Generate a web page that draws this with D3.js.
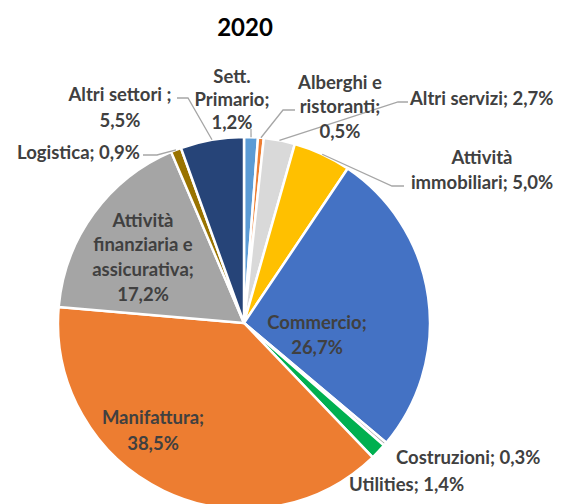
<!DOCTYPE html>
<html>
<head>
<meta charset="utf-8">
<script src="https://d3js.org/d3.v7.min.js"></script>
<style>
  body { margin: 0; background: #fff; }
  .lbl { font-family: Lato, "Noto Sans", sans-serif; font-weight: bold; font-size: 18.5px; fill: #404040; }
</style>
</head>
<body>
<svg class="chart" width="562" height="504"></svg>
<script>
// data (clockwise from 12 o'clock)
var settori = ["Sett. Primario", "Alberghi e ristoranti", "Altri servizi", "Attività immobiliari",
  "Commercio", "Costruzioni", "Utilities", "Manifattura", "Attività finanziaria e assicurativa",
  "Logistica", "Altri settori"];
var quote = [1.2, 0.5, 2.7, 5.0, 26.7, 0.3, 1.4, 38.5, 17.2, 0.9, 5.5];
var etichette = [
  ["Sett.", "Primario;", "1,2%"],
  ["Alberghi e", "ristoranti;", "0,5%"],
  ["Altri servizi; 2,7%"],
  ["Attività", "immobiliari; 5,0%"],
  ["Commercio;", "26,7%"],
  ["Costruzioni; 0,3%"],
  ["Utilities; 1,4%"],
  ["Manifattura;", "38,5%"],
  ["Attività", "finanziaria e", "assicurativa;", "17,2%"],
  ["Logistica; 0,9%"],
  ["Altri settori ;", "5,5%"]
];
var titolo = "2020";

var colori = ["#5b9bd5", "#ed7d31", "#d9d9d9", "#ffc000", "#4472c4", "#a5a5a5",
  "#00b050", "#ed7d31", "#a5a5a5", "#997300", "#264478"];

// label layout: x, y of first line, anchor, line step, leader elbow / end (null = no leader)
var layout = [
  {x: 232, y: 76, a: "middle", dy: 23, elbow: null, end: [251, 129]},
  {x: 340, y: 82, a: "middle", dy: 24.5, elbow: [283, 110], end: [295, 110]},
  {x: 410, y: 98, a: "start", dy: 0, elbow: [398, 102], end: [408, 102]},
  {x: 482, y: 157, a: "middle", dy: 25, elbow: [392, 186], end: [404, 186]},
  {x: 317, y: 322, a: "middle", dy: 25, elbow: null, end: null},
  {x: 396, y: 457, a: "start", dy: 0, elbow: null, end: null},
  {x: 349, y: 484, a: "start", dy: 0, elbow: null, end: null},
  {x: 153, y: 417, a: "middle", dy: 26, elbow: null, end: null},
  {x: 143, y: 220, a: "middle", dy: 24.7, elbow: null, end: null},
  {x: 140, y: 152, a: "end", dy: 0, elbow: [157, 155], end: [143, 155]},
  {x: 120, y: 94, a: "middle", dy: 26, elbow: [188, 98], end: [177, 98]}
];

var svg = d3.select(".chart");
var cx = 244, cy = 323, r = 186;

svg.append("text")
  .attr("x", 245)
  .attr("y", 36)
  .attr("text-anchor", "middle")
  .style("font-family", "Lato, 'Noto Sans', sans-serif")
  .style("font-weight", "bold")
  .style("font-size", "24px")
  .style("fill", "#000")
  .text(titolo);

var pie = d3.pie().sort(null).value(function(d) { return d; });
var arcs = pie(quote);
var arc = d3.arc().innerRadius(0).outerRadius(r);

var g = svg.append("g").attr("transform", "translate(" + cx + "," + cy + ")");

g.selectAll("path.slice")
  .data(arcs)
  .enter().append("path")
  .attr("class", "slice")
  .attr("d", arc)
  .attr("fill", function(d, i) { return colori[i]; })
  .attr("stroke", "#fff")
  .attr("stroke-width", 2.5)
  .attr("stroke-linejoin", "round");

// leader lines: start on the rim at the slice's mid angle
arcs.forEach(function(d, i) {
  var L = layout[i];
  if (!L.end) return;
  var mid = (d.startAngle + d.endAngle) / 2;
  var pts = [[cx + r * Math.sin(mid), cy - r * Math.cos(mid)]];
  if (L.elbow) pts.push(L.elbow);
  pts.push(L.end);
  svg.append("path")
    .attr("d", d3.line()(pts))
    .attr("fill", "none")
    .attr("stroke", "#a6a6a6")
    .attr("stroke-width", 1.3);
});

// labels
etichette.forEach(function(lines, i) {
  var L = layout[i];
  var t = svg.append("text")
    .attr("class", "lbl")
    .attr("text-anchor", L.a);
  lines.forEach(function(s, k) {
    t.append("tspan")
      .attr("x", L.x)
      .attr("y", L.y + k * L.dy + 6.5)
      .text(s);
  });
});
</script>
</body>
</html>
